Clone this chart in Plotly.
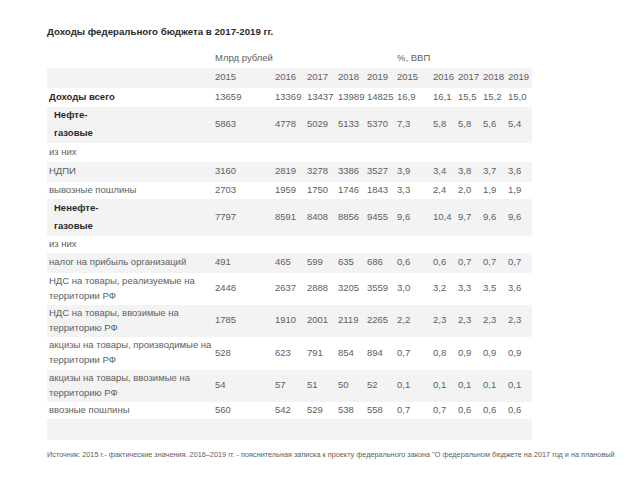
import plotly.graph_objects as go

title = "Доходы федерального бюджета в 2017-2019 гг."
unit_bln = "Млрд рублей"
unit_gdp = "%, ВВП"
years = ["2015", "2016", "2017", "2018", "2019"]

labels = [
    "Доходы всего",
    "Нефте-\nгазовые",
    "из них",
    "НДПИ",
    "вывозные пошлины",
    "Ненефте-\nгазовые",
    "из них",
    "налог на прибыль организаций",
    "НДС на товары, реализуемые на\nтерритории РФ",
    "НДС на товары, ввозимые на\nтерриторию РФ",
    "акцизы на товары, производимые на\nтерритории РФ",
    "акцизы на товары, ввозимые на\nтерриторию РФ",
    "ввозные пошлины",
    "",
]
bold_rows = [0, 1, 5]

bln = [
    [13659, 13369, 13437, 13989, 14825],
    [5863, 4778, 5029, 5133, 5370],
    None,
    [3160, 2819, 3278, 3386, 3527],
    [2703, 1959, 1750, 1746, 1843],
    [7797, 8591, 8408, 8856, 9455],
    None,
    [491, 465, 599, 635, 686],
    [2448, 2637, 2888, 3205, 3559],
    [1785, 1910, 2001, 2119, 2265],
    [528, 623, 791, 854, 894],
    [54, 57, 51, 50, 52],
    [560, 542, 529, 538, 558],
    None,
]
gdp = [
    [16.9, 16.1, 15.5, 15.2, 15.0],
    [7.3, 5.8, 5.8, 5.6, 5.4],
    None,
    [3.9, 3.4, 3.8, 3.7, 3.6],
    [3.3, 2.4, 2.0, 1.9, 1.9],
    [9.6, 10.4, 9.7, 9.6, 9.6],
    None,
    [0.6, 0.6, 0.7, 0.7, 0.7],
    [3.0, 3.2, 3.3, 3.5, 3.6],
    [2.2, 2.3, 2.3, 2.3, 2.3],
    [0.7, 0.8, 0.9, 0.9, 0.9],
    [0.1, 0.1, 0.1, 0.1, 0.1],
    [0.7, 0.7, 0.6, 0.6, 0.6],
    None,
]
source = ("Источник: 2015 г.- фактические значения. 2016–2019 гг. - пояснительная записка к проекту "
          "федерального закона \"О федеральном бюджете на 2017 год и на плановый")

# ---- layout constants (pixels) ----
FONT = "Liberation Sans, Arial, sans-serif"
TXT = "#606060"
DARK = "#2a2a2a"
GRAY = "#f3f3f3"
FS = 9.5
TBL_L, TBL_R = 47, 532
LABEL_X = 49
INDENT_X = 54
COL_X = [215, 275, 307, 338, 367, 397, 433, 458, 483, 508]
UNIT_TOP = 48
HDR_H = 20
row_h = [19, 36, 19, 20, 17, 37, 17, 20, 32, 32, 33, 32, 17, 21]

fig = go.Figure()

# row geometry
tops = []
y = UNIT_TOP + HDR_H  # year header row top
hdr_top = y
y += HDR_H
for h in row_h:
    tops.append(y)
    y += h
centers = [t + h / 2 for t, h in zip(tops, row_h)]

# backgrounds: header row gray, then alternate
bg_y, bg_w = [hdr_top + HDR_H / 2], [HDR_H]
for i, (c, h) in enumerate(zip(centers, row_h)):
    if i % 2 == 1:
        bg_y.append(c)
        bg_w.append(h)
fig.add_trace(go.Bar(
    y=bg_y, x=[TBL_R - TBL_L] * len(bg_y), base=[TBL_L] * len(bg_y), width=bg_w,
    orientation="h", marker=dict(color=GRAY, line=dict(width=0)),
    hoverinfo="skip", showlegend=False,
))

def add_text(xs, ys, texts, color=TXT, size=FS):
    fig.add_trace(go.Scatter(
        x=xs, y=ys, text=texts, mode="text", textposition="middle right",
        textfont=dict(family=FONT, size=size, color=color),
        hoverinfo="skip", showlegend=False, cliponaxis=False,
    ))

# units row
add_text([COL_X[0], COL_X[5]], [UNIT_TOP + HDR_H / 2 + 1] * 2, [unit_bln, unit_gdp])
# year header
hy = hdr_top + HDR_H / 2
add_text(COL_X, [hy] * 10, years + years)

# labels
lx, ly, lt = [], [], []
bx, by, bt = [], [], []
for i, (lab, c, h) in enumerate(zip(labels, centers, row_h)):
    if not lab:
        continue
    lines = lab.split("\n")
    bold = i in bold_rows
    x0 = INDENT_X if (bold and len(lines) > 1) else LABEL_X
    sp = 18 if bold else 15
    for k, ln in enumerate(lines):
        yy = c + (k - (len(lines) - 1) / 2) * sp
        if bold:
            bx.append(x0); by.append(yy); bt.append("<b>" + ln + "</b>")
        else:
            lx.append(x0); ly.append(yy); lt.append(ln)
add_text(lx, ly, lt)
add_text(bx, by, bt, color=DARK)

# values
vx, vy, vt = [], [], []
for i, c in enumerate(centers):
    if bln[i] is None:
        continue
    vals = [str(v) for v in bln[i]] + [f"{v:.1f}".replace(".", ",") for v in gdp[i]]
    for x, t in zip(COL_X, vals):
        vx.append(x); vy.append(c); vt.append(t)
add_text(vx, vy, vt)

# title and source
add_text([TBL_L], [33], ["<b>" + title + "</b>"], color=DARK, size=9.7)
add_text([TBL_L], [455], [source], size=7.3)

fig.update_layout(
    width=640, height=480, margin=dict(l=0, r=0, t=0, b=0),
    paper_bgcolor="white", plot_bgcolor="white", barmode="overlay",
    xaxis=dict(range=[0, 640], visible=False, fixedrange=True),
    yaxis=dict(range=[480, 0], visible=False, fixedrange=True),
)
fig.write_html("out.html", config={"displayModeBar": False},
               post_script="document.body.style.margin='0px';document.body.style.overflow='hidden';")
